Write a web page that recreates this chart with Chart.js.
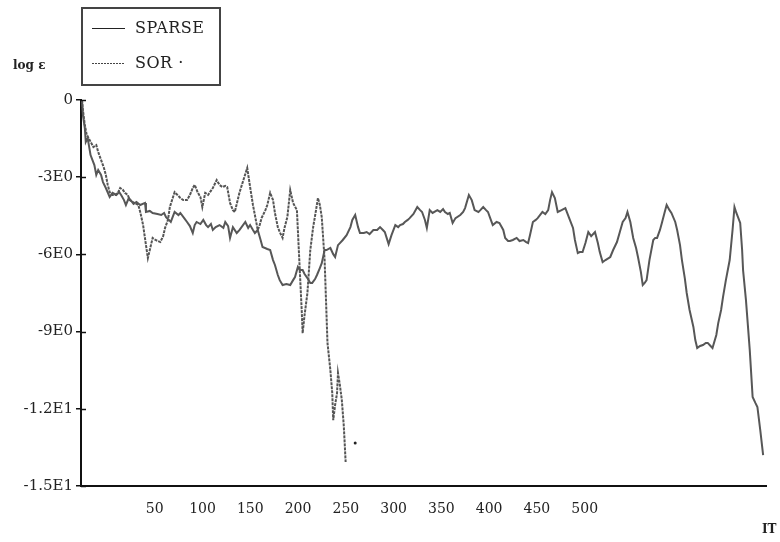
<!DOCTYPE html>
<html>
<head>
<meta charset="utf-8">
<title>log e vs IT</title>
<script src="https://cdn.jsdelivr.net/npm/chart.js@4.4.1/dist/chart.umd.min.js"></script>
<style>
  html, body { margin: 0; padding: 0; background: #fff; }
  #wrap { width: 780px; height: 542px; }
</style>
</head>
<body>
<div id="wrap"><canvas id="chart" width="780" height="542"></canvas></div>
<script>
// Iteration numbers and log(e) values
const sparseIt = [1, 2, 4, 5, 7, 10, 14, 16, 18, 21, 23, 26, 30, 33, 37, 40, 42, 45, 47, 50, 52, 55, 58, 62, 67, 68, 72, 75, 80, 84, 87, 89, 92, 94, 98, 102, 104, 108, 111, 114, 117, 119, 121, 125, 128, 131, 133, 136, 138, 141, 145, 149, 151, 154, 156, 159, 163, 166, 172, 175, 177, 180, 182, 185, 188, 190, 195, 198, 201, 203, 206, 208, 211, 215, 219, 222, 224, 227, 229, 232, 234, 237, 240, 242, 245, 247, 250, 252, 255, 257, 261, 264, 266, 269, 271, 274, 278, 282, 284, 287, 290, 292, 296, 299, 302, 306, 310, 313, 316, 318, 322, 325, 329, 332, 334, 337, 339, 342, 344, 348, 352, 355, 357, 360, 362, 365, 368, 373, 376, 379, 381, 384, 386, 389, 392, 397, 400, 402, 406, 409, 412, 416, 418, 421, 424, 426, 429, 431, 435, 438, 442, 444, 447, 449, 452, 456, 459, 463, 466, 468, 470, 473, 476, 478, 483, 486, 489, 491, 493, 496, 499, 503, 507, 511, 515, 517, 520, 522, 525, 528, 531, 534, 538, 541, 543, 546, 549, 554, 557, 561, 564, 567, 570, 572, 575, 578, 581, 583, 586, 588, 590, 592, 595, 599, 601, 603, 606, 608, 611, 613, 616, 618, 622, 624, 627, 629, 632, 634, 637, 641, 643, 645, 648, 651, 654, 656, 659, 661, 665, 667, 670, 672, 675, 679, 682, 684, 686, 690, 692, 693, 696, 698, 700, 703, 706, 708, 711, 714];
const sparseLogE = [0, -0.58, -1.09, -1.63, -1.48, -2.14, -2.53, -2.91, -2.72, -2.91, -3.19, -3.42, -3.77, -3.61, -3.69, -3.58, -3.69, -3.89, -4.08, -3.81, -3.89, -4.04, -3.96, -4.08, -4.00, -4.35, -4.31, -4.39, -4.43, -4.47, -4.39, -4.55, -4.66, -4.74, -4.35, -4.47, -4.39, -4.59, -4.74, -4.90, -5.17, -4.86, -4.74, -4.82, -4.66, -4.86, -4.94, -4.82, -5.05, -4.94, -4.86, -4.97, -4.74, -4.90, -5.36, -4.94, -5.17, -5.05, -4.74, -4.97, -4.86, -5.05, -5.17, -5.05, -5.44, -5.71, -5.79, -5.83, -6.22, -6.41, -6.80, -7.00, -7.19, -7.15, -7.19, -7.00, -6.88, -6.49, -6.61, -6.61, -6.76, -6.92, -7.11, -7.11, -6.96, -6.80, -6.53, -6.34, -5.83, -5.83, -5.75, -5.99, -6.10, -5.64, -5.56, -5.44, -5.25, -4.94, -4.66, -4.47, -4.94, -5.17, -5.17, -5.13, -5.21, -5.05, -5.05, -4.94, -5.05, -5.13, -5.60, -5.25, -4.86, -4.94, -4.86, -4.82, -4.74, -4.66, -4.59, -4.43, -4.16, -4.28, -4.35, -4.66, -4.97, -4.28, -4.39, -4.28, -4.35, -4.24, -4.35, -4.43, -4.39, -4.78, -4.59, -4.47, -4.35, -4.20, -3.69, -3.89, -4.28, -4.35, -4.28, -4.16, -4.28, -4.35, -4.66, -4.86, -4.74, -4.78, -5.05, -5.36, -5.48, -5.48, -5.44, -5.36, -5.48, -5.44, -5.52, -5.56, -5.25, -4.74, -4.66, -4.59, -4.35, -4.43, -4.28, -3.89, -3.58, -3.81, -4.35, -4.28, -4.20, -4.59, -4.97, -5.44, -5.95, -5.91, -5.91, -5.56, -5.13, -5.29, -5.13, -5.56, -5.91, -6.30, -6.22, -6.10, -5.83, -5.52, -5.13, -4.74, -4.59, -4.35, -4.74, -5.36, -5.75, -6.10, -6.68, -7.19, -7.11, -7.00, -6.22, -5.44, -5.36, -5.36, -5.05, -4.78, -4.35, -4.08, -4.28, -4.39, -4.74, -5.05, -5.64, -6.22, -6.92, -7.50, -8.16, -8.82, -9.33, -9.64, -9.56, -9.52, -9.44, -9.44, -9.56, -9.64, -9.13, -8.67, -8.16, -7.66, -7.00, -6.22, -5.05, -4.16, -4.39, -4.78, -5.83, -6.61, -7.77, -8.74, -9.72, -11.54, -11.78, -11.93, -12.83, -13.80];

const sorIt = [1, 2, 4, 6, 9, 13, 16, 18, 21, 24, 26, 28, 30, 33, 36, 39, 41, 44, 46, 49, 51, 54, 58, 60, 62, 65, 68, 70, 72, 75, 78, 83, 86, 88, 91, 93, 96, 98, 102, 104, 107, 111, 114, 117, 119, 122, 125, 127, 130, 133, 135, 138, 142, 145, 148, 151, 153, 156, 159, 161, 164, 166, 170, 174, 177, 180, 182, 185, 187, 189, 193, 195, 198, 201, 203, 206, 208, 211, 213, 216, 219, 222, 226, 229, 231, 232, 234, 237, 240, 243, 246, 248, 250, 252, 255, 258, 261, 263, 264, 266, 268, 269, 271, 273, 275, 276, 277];
const sorLogE = [0, -0.39, -0.97, -1.36, -1.55, -1.83, -1.75, -2.02, -2.33, -2.64, -2.91, -3.30, -3.58, -3.69, -3.69, -3.58, -3.42, -3.50, -3.61, -3.69, -3.89, -3.96, -4.04, -4.08, -4.35, -4.86, -5.64, -6.14, -5.83, -5.36, -5.44, -5.52, -5.29, -4.97, -4.66, -4.16, -3.81, -3.58, -3.73, -3.81, -3.89, -3.89, -3.69, -3.42, -3.30, -3.58, -3.77, -4.16, -3.61, -3.69, -3.58, -3.42, -3.11, -3.30, -3.38, -3.34, -3.38, -4.00, -4.28, -4.35, -3.89, -3.58, -3.11, -2.64, -3.38, -4.08, -4.47, -5.05, -4.86, -4.59, -4.28, -4.08, -3.61, -3.89, -4.39, -4.94, -5.13, -5.36, -4.97, -4.55, -3.50, -4.00, -4.28, -6.61, -8.16, -9.06, -8.36, -7.50, -5.83, -4.94, -4.28, -3.81, -4.08, -4.55, -6.22, -9.44, -10.49, -11.39, -12.44, -11.85, -11.39, -10.61, -11.08, -11.66, -12.63, -13.33, -14.07];

// stray point printed to the right of the SOR curve
const sorDotIt = [287];
const sorDotLogE = [-13.33];

const xTickValues = [50, 100, 150, 200, 250, 300, 350, 400, 450, 500];
const yTickValues = [0, -3, -6, -9, -12, -15];
const yTickText = ['0', '-3E0', '-6E0', '-9E0', '-1.2E1', '-1.5E1'];

const legendItems = ['SPARSE', 'SOR \u00b7'];

const FONT = '"DejaVu Serif", "Liberation Serif", serif';

function toPoints(xs, ys) {
    return xs.map((x, i) => ({ x: x, y: ys[i] }));
}

// draws the boxed legend, the axis titles and tick marks crossing the y axis
const decorations = {
    id: 'decorations',
    afterDraw(chart) {
        const ctx = chart.ctx;
        const yScale = chart.scales.y;
        const left = chart.chartArea.left;
        ctx.save();

        // tick marks on the inner side of the y axis
        ctx.strokeStyle = '#111';
        ctx.lineWidth = 1.5;
        yTickValues.forEach(v => {
            const py = Math.round(yScale.getPixelForValue(v)) + 0.5;
            ctx.beginPath();
            ctx.moveTo(left, py);
            ctx.lineTo(left + 5, py);
            ctx.stroke();
        });

        // legend box
        ctx.strokeStyle = '#444';
        ctx.lineWidth = 2;
        ctx.strokeRect(82, 8, 138, 77);

        ctx.lineWidth = 1.2;
        ctx.strokeStyle = '#222';
        ctx.beginPath();
        ctx.moveTo(92, 28.5);
        ctx.lineTo(125, 28.5);
        ctx.stroke();

        ctx.setLineDash([2, 1]);
        ctx.strokeStyle = '#444';
        ctx.beginPath();
        ctx.moveTo(92, 63.5);
        ctx.lineTo(125, 63.5);
        ctx.stroke();
        ctx.setLineDash([]);

        ctx.fillStyle = '#222';
        ctx.font = '16px ' + FONT;
        ctx.letterSpacing = '0.5px';
        ctx.textBaseline = 'middle';
        ctx.textAlign = 'left';
        ctx.fillText(legendItems[0], 135, 29);
        ctx.fillText(legendItems[1], 135, 64);
        ctx.letterSpacing = '0px';

        // axis titles
        ctx.font = 'bold 12px ' + FONT;
        ctx.fillText('log \u03b5', 13, 66);
        ctx.fillText('IT', 762, 530);

        ctx.restore();
    }
};

const ctx = document.getElementById('chart').getContext('2d');
new Chart(ctx, {
    type: 'line',
    data: {
        datasets: [
            {
                label: 'SPARSE',
                data: toPoints(sparseIt, sparseLogE),
                borderColor: '#575757',
                borderWidth: 2,
                pointRadius: 0,
                tension: 0,
                fill: false
            },
            {
                label: 'SOR',
                data: toPoints(sorIt, sorLogE),
                borderColor: '#555',
                borderWidth: 2,
                borderDash: [3, 1],
                pointRadius: 0,
                tension: 0,
                fill: false
            },
            {
                label: 'SOR point',
                data: toPoints(sorDotIt, sorDotLogE),
                showLine: false,
                pointRadius: 1.5,
                pointBackgroundColor: '#222',
                pointBorderWidth: 0
            }
        ]
    },
    options: {
        responsive: false,
        animation: false,
        events: [],
        layout: {
            padding: { top: 100, right: 14, left: 0, bottom: 0 }
        },
        plugins: {
            legend: { display: false },
            tooltip: { enabled: false }
        },
        scales: {
            x: {
                type: 'linear',
                min: 0,
                max: 717,
                afterBuildTicks: scale => {
                    scale.ticks = xTickValues.map(v => ({ value: v }));
                },
                afterFit: scale => {
                    scale.height = 56;
                },
                grid: { display: false },
                border: { display: true, color: '#111', width: 2 },
                ticks: {
                    autoSkip: false,
                    maxRotation: 0,
                    labelOffset: 26,
                    padding: 7,
                    color: '#222',
                    font: { family: FONT, size: 14 }
                }
            },
            y: {
                min: -15,
                max: 0,
                afterBuildTicks: scale => {
                    scale.ticks = yTickValues.map(v => ({ value: v }));
                },
                afterFit: scale => {
                    scale.width = 81;
                },
                grid: {
                    display: true,
                    drawOnChartArea: false,
                    drawTicks: true,
                    tickLength: 5,
                    color: '#111',
                    lineWidth: 1.5
                },
                border: { display: true, color: '#111', width: 2 },
                ticks: {
                    padding: 3,
                    color: '#222',
                    font: { family: FONT, size: 15 },
                    callback: value => {
                        const i = yTickValues.indexOf(value);
                        return i >= 0 ? yTickText[i] : '';
                    }
                }
            }
        }
    },
    plugins: [decorations]
});
</script>
</body>
</html>
